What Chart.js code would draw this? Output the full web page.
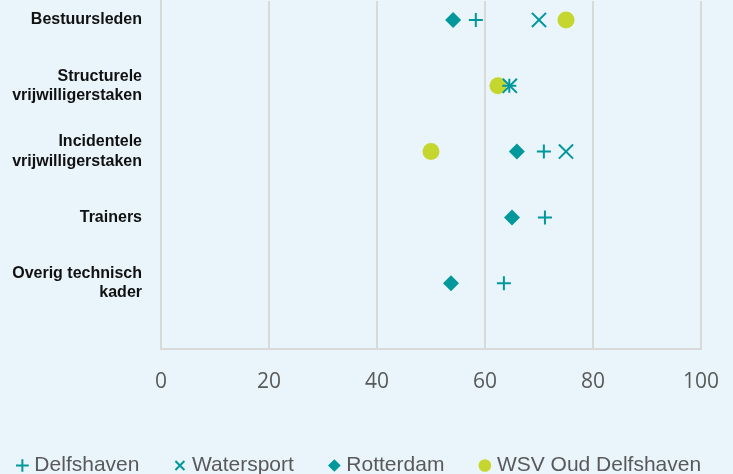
<!DOCTYPE html>
<html>
<head>
<meta charset="utf-8">
<script src="https://cdn.jsdelivr.net/npm/chart.js@4/dist/chart.umd.min.js"></script>
<style>
html,body{margin:0;padding:0;background:#E9F5FB;overflow:hidden;width:733px;height:474px;}
canvas{display:block;margin-left:-39px;margin-top:-11px;}
</style>
</head>
<body>
<canvas id="c" width="800" height="497"></canvas>
<script>
const categories = [
  ["Bestuursleden"],
  ["Structurele", "vrijwilligerstaken"],
  ["Incidentele", "vrijwilligerstaken"],
  ["Trainers"],
  ["Overig technisch", "kader"]
];
const seriesNames = ["Delfshaven", "Watersport", "Rotterdam", "WSV Oud Delfshaven"];
const delfshaven = [58.3, 64.5, 70.9, 71.1, 63.5];
const watersport = [70.0, 64.6, 75.0, null, null];
const rotterdam  = [54.1, 62.3, 65.9, 65.0, 53.7];
const wsvOud     = [75.0, 62.4, 50.0, null, null];
const xTicks = [0, 20, 40, 60, 80, 100];

const TEAL = '#00989A';
const LIME = '#C5D72F';
const n = categories.length;
function pts(arr){
  const out = [];
  arr.forEach((v,i)=>{ if(v!==null) out.push({x:v, y:n-i}); });
  return out;
}

const chart = new Chart(document.getElementById('c'), {
  type: 'scatter',
  data: {
    datasets: [
      {label: seriesNames[0], data: pts(delfshaven), pointStyle:'cross', pointRadius:7, pointHoverRadius:7,
       borderColor:TEAL, backgroundColor:TEAL, pointBorderWidth:2, order:2},
      {label: seriesNames[1], data: pts(watersport), pointStyle:'crossRot', pointRadius:10, pointHoverRadius:10,
       borderColor:TEAL, backgroundColor:TEAL, pointBorderWidth:2, order:1},
      {label: seriesNames[2], data: pts(rotterdam), pointStyle:'rectRot', pointRadius:8, pointHoverRadius:8,
       borderColor:TEAL, backgroundColor:TEAL, pointBorderWidth:0, order:4},
      {label: seriesNames[3], data: pts(wsvOud), pointStyle:'circle', pointRadius:8.5, pointHoverRadius:8.5,
       borderColor:LIME, backgroundColor:LIME, pointBorderWidth:0, order:3}
    ]
  },
  options: {
    responsive: false,
    animation: false,
    devicePixelRatio: 1,
    layout: {padding: 0},
    plugins: {
      tooltip: {enabled: false},
      legend: {
        position: 'bottom',
        labels: {
          usePointStyle: true,
          boxWidth: 3, boxHeight: 9,
          padding: 39,
          color: '#595959',
          font: {family: '"Liberation Sans", Arial, sans-serif', size: 21},
          sort: (a,b) => a.datasetIndex - b.datasetIndex
        }
      }
    },
    scales: {
      x: {
        type: 'linear', min: 0, max: 100,
        afterBuildTicks: s => { s.ticks = xTicks.map(v => ({value: v})); },
        grid: {color: '#D9D9D9', lineWidth: 2, drawTicks: false},
        border: {color: '#D9D9D9', width: 2},
        ticks: {padding: 20, color: '#595959', font: {family: '"Open Sans", sans-serif', size: 21}},
        afterFit: s => { s.height = 67; s.paddingRight = 60; s.paddingLeft = 0; }
      },
      y: {
        type: 'linear', min: 0, max: 5.288,
        afterBuildTicks: s => { s.ticks = categories.map((c,i) => ({value: i + 1})); },
        grid: {display: false, drawTicks: false},
        border: {color: '#D9D9D9', width: 2},
        ticks: {
          padding: 19, color: '#111111',
          font: {family: '"Liberation Sans", Arial, sans-serif', size: 16, weight: 'bold', lineHeight: 1.2},
          callback: (v) => { const idx = n - Math.round(v); return categories[idx] || ''; }
        },
        afterFit: s => { s.width = 200; s.paddingTop = 0; s.paddingBottom = 0; }
      }
    }
  }
});
</script>
</body>
</html>
